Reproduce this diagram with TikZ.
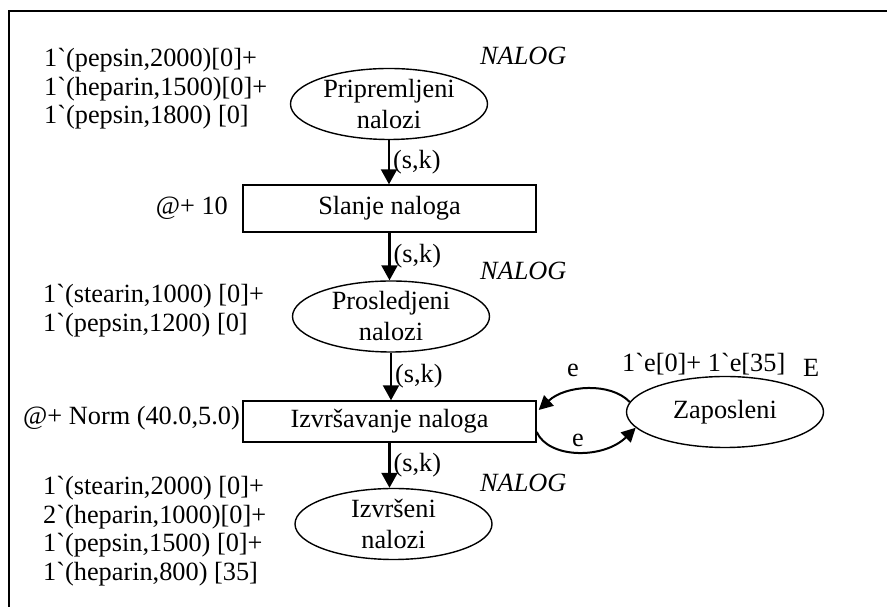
\documentclass[tikz,border=0pt]{standalone}
\usepackage{fontspec}
\newfontfamily\tnr{Liberation Serif}
\usetikzlibrary{arrows.meta,calc,shapes.geometric}
\tikzset{
  place/.style={ellipse, draw, line width=1.4pt, minimum width=197pt, minimum height=71pt,
    inner sep=0pt, align=center, font=\fontsize{26.3}{31}\tnr},
  trans/.style={rectangle, draw, line width=1.4pt, minimum width=293pt, inner sep=0pt},
  txt/.style={inner sep=0pt, anchor=base west},
  flow/.style={line width=2.2pt, -{Triangle[length=15pt,width=16pt]}},
  loopflow/.style={line width=2pt, -{Triangle[length=14pt,width=14pt]}},
  arclab/.style={midway, anchor=west, xshift=3pt, inner sep=0pt},
  marking/.style={txt},
  colset/.style={txt, font=\fontsize{26.3}{28}\tnr\itshape}
}
\begin{document}
\begin{tikzpicture}[x=1pt, y=1pt, font=\fontsize{26.3}{28.5}\tnr]
\useasboundingbox (0,0) rectangle (887,607);

% frame
\draw[line width=2pt] (9,0) -- (9,596) -- (887,596);

% places and transitions
\node[place] (prip) at (389,503) {Pripremljeni\\nalozi};
\node[trans, minimum height=47pt] (slanje) at (389.5,398.5) {Slanje naloga};
\node[place] (prosl) at (391,290.5) {Prosledjeni\\nalozi};
\node[trans, minimum height=41pt] (izv) at (389.5,185.5) {Izvršavanje naloga};
\node[place] (izvrs) at (393.5,83) {Izvršeni\\nalozi};
\node[place] (zap) at (725,195) {Zaposleni};

% arcs of the main flow
\draw[flow] (prip.south) -- (prip.south |- slanje.north) node[arclab] {(s,k)};
\draw[flow] (slanje.south) -- (slanje.south |- prosl.north) node[arclab] {(s,k)};
\draw[flow] (prosl.south) -- (prosl.south |- izv.north) node[arclab] {(s,k)};
\draw[flow] (izv.south) -- (izv.south |- izvrs.north) node[arclab] {(s,k)};

% employee loop
\coordinate (inUp) at ($(izv.east)+(2,11.5)$);
\coordinate (outLo) at ($(izv.east)+(0,-10.5)$);
\draw[loopflow] (zap.174) .. controls +(-19,20) and +(27,25) .. (inUp);
\draw[loopflow] (outLo) .. controls +(12,-27) and +(-32,-31.5) .. (zap.190);
\node[txt, anchor=base] (eup) at (573,230) {e};
\node[txt, anchor=base] (elo) at (578,160) {e};

% colour sets
\node[colset] (cs1) at (480,542) {NALOG};
\node[colset] (cs2) at (480,327) {NALOG};
\node[colset] (cs3) at (480,115) {NALOG};
\node[txt] (csE) at (803,230) {E};

% markings
\node[marking] (m1) at (44,540) {\begin{tabular}[t]{@{}l@{}}1`(pepsin,2000)[0]+\\1`(heparin,1500)[0]+\\1`(pepsin,1800) [0]\end{tabular}};
\node[marking] (m2) at (43,304) {\begin{tabular}[t]{@{}l@{}}1`(stearin,1000) [0]+\\1`(pepsin,1200) [0]\end{tabular}};
\node[marking] (m3) at (43,112) {\begin{tabular}[t]{@{}l@{}}1`(stearin,2000) [0]+\\2`(heparin,1000)[0]+\\1`(pepsin,1500) [0]+\\1`(heparin,800) [35]\end{tabular}};
\node[marking] (m4) at (622,235) {1`e[0]+ 1`e[35]};

% transition delays
\node[txt, anchor=base east] (d1) at (228,392) {@+ 10};
\node[txt, anchor=base east] (d2) at (240,182) {@+ Norm (40.0,5.0)};
\end{tikzpicture}
\end{document}
